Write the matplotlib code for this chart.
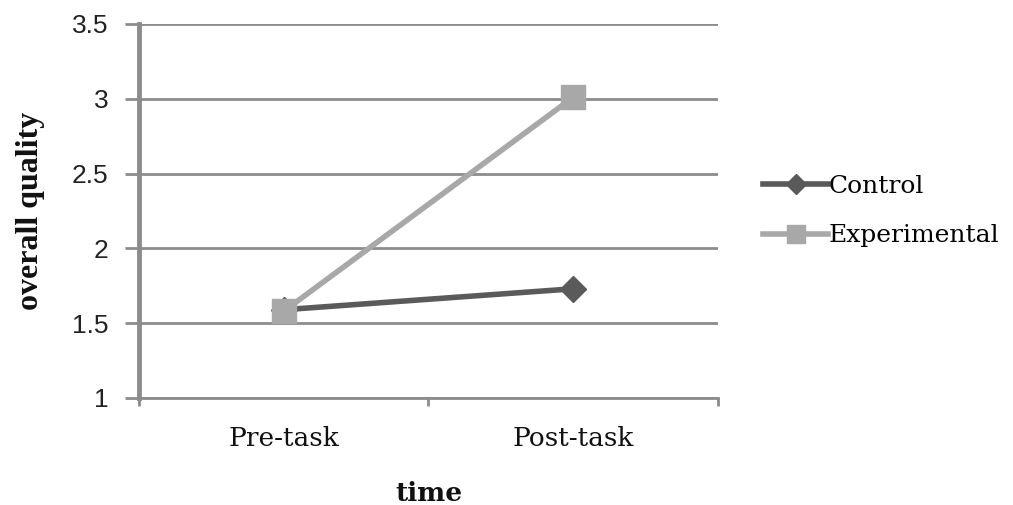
import matplotlib
matplotlib.use("Agg")
import matplotlib.pyplot as plt
from matplotlib.ticker import FixedLocator

categories = ["Pre-task", "Post-task"]
control = [1.59, 1.73]
experimental = [1.58, 3.01]
y_ticks = [1, 1.5, 2, 2.5, 3, 3.5]
y_tick_labels = ["1", "1.5", "2", "2.5", "3", "3.5"]

fig = plt.figure(figsize=(10.13, 5.05), dpi=100)
ax = fig.add_axes([0.1372, 0.2119, 0.5716, 0.7406])

grid_c = "#8c8c8c"
x = list(range(len(categories)))
ax.plot(x, control, color="#5a5a5a", lw=4, marker="D", ms=13,
        markeredgecolor="#5a5a5a", label="Control", zorder=2)
ax.plot(x, experimental, color="#a8a8a8", lw=4, marker="s", ms=17,
        markeredgecolor="#a8a8a8", label="Experimental", zorder=3)

ax.set_xlim(-0.5, len(categories) - 0.5)
ax.set_ylim(1, 3.5)
ax.set_yticks(y_ticks)
ax.set_yticklabels(y_tick_labels, fontsize=19, family="Liberation Sans", color="#222222")
ax.yaxis.grid(True, color=grid_c, lw=2)
ax.set_axisbelow(True)

ax.set_xticks(x)
ax.set_xticklabels(categories, fontsize=19, family="DejaVu Serif", color="#111111")
ax.tick_params(axis="x", length=0, pad=20)
ax.xaxis.set_minor_locator(FixedLocator([-0.5 + i for i in range(len(categories) + 1)]))
ax.tick_params(axis="x", which="minor", length=6, width=2, color=grid_c)
ax.tick_params(axis="y", length=10, width=2, color=grid_c, pad=12)

for s in ["top", "right"]:
    ax.spines[s].set_visible(False)
ax.spines["left"].set_color(grid_c)
ax.spines["left"].set_linewidth(3.5)
ax.spines["bottom"].set_color(grid_c)
ax.spines["bottom"].set_linewidth(2)

ax.set_ylabel("overall quality", fontsize=23, family="Liberation Serif",
              fontweight="bold", color="#111111", labelpad=19)
ax.set_xlabel("time", fontsize=19, family="DejaVu Serif",
              fontweight="bold", color="#111111", labelpad=22)

leg = ax.legend(loc="center left", bbox_to_anchor=(1.078, 0.499), frameon=False,
                prop={"family": "DejaVu Serif", "size": 18}, handlelength=2.6,
                handletextpad=0.0, labelspacing=1.05, markerscale=0.8,
                borderpad=0, borderaxespad=0)

fig.savefig("out.png", dpi=100, facecolor="white")
